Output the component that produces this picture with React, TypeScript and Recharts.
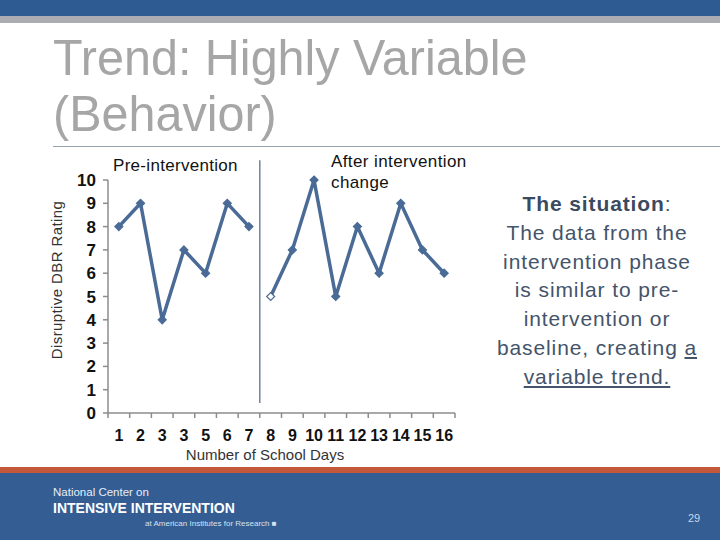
import React from "react"
import { LineChart, Line, XAxis, YAxis, ReferenceLine, Label } from "recharts"

const dayLabels = ["1", "2", "3", "3", "5", "6", "7", "8", "9", "10", "11", "12", "13", "14", "15", "16"]
const preValues = [8, 9, 4, 7, 6, 9, 8]
const postValues = [5, 7, 10, 5, 8, 6, 9, 7, 6]
const yTicks = [0, 1, 2, 3, 4, 5, 6, 7, 8, 9, 10]
const phaseChangeAt = 7.5

const data = dayLabels.map((label, i) => ({
  day: i + 1,
  label,
  pre: i < preValues.length ? preValues[i] : null,
  post: i >= preValues.length ? postValues[i - preValues.length] : null,
}))

const dayPositions = data.map(d => d.day)
const boundaries = [0.5, ...dayPositions.map(d => d + 0.5)]

const LINE = "#4a6b96"
const AXIS = "#8c8c8c"
const FONT = "'Liberation Sans', Arial, sans-serif"

const Diamond = (props: any) => {
  const { cx, cy, index, value } = props
  if (cx == null || cy == null || value == null) return null
  const r = 4
  const hollow = index === preValues.length
  return (
    <path
      key={`d-${index}`}
      d={`M${cx},${cy - r} L${cx + r},${cy} L${cx},${cy + r} L${cx - r},${cy} Z`}
      fill={hollow ? "#ffffff" : LINE}
      stroke={LINE}
      strokeWidth={1.2}
    />
  )
}

export default function App() {
  return (
    <div style={{ position: "absolute", left: 0, top: 0, width: 720, height: 540, background: "#fff", overflow: "hidden", fontFamily: FONT }}>
      {/* slide header */}
      <div style={{ position: "absolute", left: 0, top: 0, width: 720, height: 16, background: "#2f5b93" }} />
      <div style={{ position: "absolute", left: 0, top: 16, width: 720, height: 7, background: "#a9adb2" }} />
      <div style={{ position: "absolute", left: 53, top: 30, fontSize: 50, lineHeight: "56px", color: "#a6a6a6", transform: "scaleX(0.97)", transformOrigin: "left top", whiteSpace: "nowrap" }}>
        Trend: Highly Variable<br />(Behavior)
      </div>
      <div style={{ position: "absolute", left: 53, top: 146, width: 667, height: 1, background: "#95a3ad" }} />

      <LineChart
        width={720}
        height={540}
        data={data}
        margin={{ top: 180, right: 265, bottom: 61, left: 68 }}
        style={{ position: "absolute", left: 0, top: 0 }}
      >
        {/* axis line + tick marks between days */}
        <XAxis
          xAxisId={0}
          type="number"
          dataKey="day"
          domain={[0.5, 16.5]}
          ticks={boundaries}
          interval={0}
          tick={() => <g />}
          height={6}
          tickSize={5}
          stroke={AXIS}
          strokeWidth={1.5}
        />
        {/* day labels centred under each point */}
        <XAxis
          xAxisId={1}
          type="number"
          dataKey="day"
          domain={[0.5, 16.5]}
          ticks={dayPositions}
          interval={0}
          height={60}
          axisLine={false}
          tickLine={false}
          tickFormatter={(v: number) => dayLabels[v - 1]}
          tick={{ fill: "#111", fontSize: 16, fontWeight: "bold", fontFamily: FONT, dy: 3 }}
        >
          <Label
            content={(p: any) => {
              const vb = p.viewBox || {}
              return (
                <text x={265} y={vb.y + 41} textAnchor="middle" fill="#333" fontSize={15} fontFamily={FONT}>
                  Number of School Days
                </text>
              )
            }}
          />
        </XAxis>
        <YAxis
          type="number"
          domain={[0, 10]}
          ticks={yTicks}
          interval={0}
          width={40}
          tickSize={5}
          tickMargin={7}
          stroke={AXIS}
          strokeWidth={1.5}
          tick={{ fill: "#111", fontSize: 17, fontWeight: "bold", fontFamily: FONT, stroke: "none" }}
        >
          <Label
            content={() => (
              <text
                x={62}
                y={280}
                transform="rotate(-90 62 280)"
                textAnchor="middle"
                fill="#333"
                fontSize={15}
                letterSpacing={0.4}
                fontFamily={FONT}
              >
                Disruptive DBR Rating
              </text>
            )}
          />
        </YAxis>
        <ReferenceLine
          ifOverflow="visible"
          segment={[{ x: phaseChangeAt, y: 10.85 }, { x: phaseChangeAt, y: 0.43 }]}
          stroke="#5a7190"
          strokeWidth={1.3}
        />
        <Line
          dataKey="pre"
          stroke={LINE}
          strokeWidth={3.5}
          dot={Diamond}
          activeDot={false}
          connectNulls={false}
          isAnimationActive={false}
        />
        <Line
          dataKey="post"
          stroke={LINE}
          strokeWidth={3.5}
          dot={Diamond}
          activeDot={false}
          connectNulls={false}
          isAnimationActive={false}
        />
      </LineChart>

      {/* phase labels */}
      <div style={{ position: "absolute", left: 113, top: 156, fontSize: 17, letterSpacing: 0.3, color: "#111", whiteSpace: "nowrap" }}>Pre-intervention</div>
      <div style={{ position: "absolute", left: 331, top: 151, fontSize: 17, lineHeight: "21px", letterSpacing: 0.4, color: "#111", whiteSpace: "nowrap" }}>
        After intervention<br />change
      </div>

      {/* commentary */}
      <div style={{ position: "absolute", left: 470, top: 190, width: 254, textAlign: "center", fontSize: 21, lineHeight: "28.8px", letterSpacing: 0.9, color: "#44546a", whiteSpace: "nowrap" }}>
        <b style={{ color: "#3b4a5f" }}>The situation</b>:<br />
        The data from the<br />
        intervention phase<br />
        is similar to pre-<br />
        intervention or<br />
        baseline, creating <u>a</u><br />
        <u>variable trend.</u>
      </div>

      {/* footer */}
      <div style={{ position: "absolute", left: 0, top: 467, width: 720, height: 6, background: "#c4583a" }} />
      <div style={{ position: "absolute", left: 0, top: 473, width: 720, height: 67, background: "#335d93" }} />
      <div style={{ position: "absolute", left: 53, top: 486, fontSize: 11.5, color: "#e8eef6", whiteSpace: "nowrap" }}>National Center on</div>
      <div style={{ position: "absolute", left: 53, top: 500, fontSize: 14, fontWeight: "bold", color: "#ffffff", whiteSpace: "nowrap" }}>INTENSIVE INTERVENTION</div>
      <div style={{ position: "absolute", left: 145, top: 519, fontSize: 8, color: "#d8e2ee", whiteSpace: "nowrap" }}>at American Institutes for Research ■</div>
      <div style={{ position: "absolute", left: 688, top: 512, fontSize: 11, color: "#c9d6e8" }}>29</div>
    </div>
  )
}
